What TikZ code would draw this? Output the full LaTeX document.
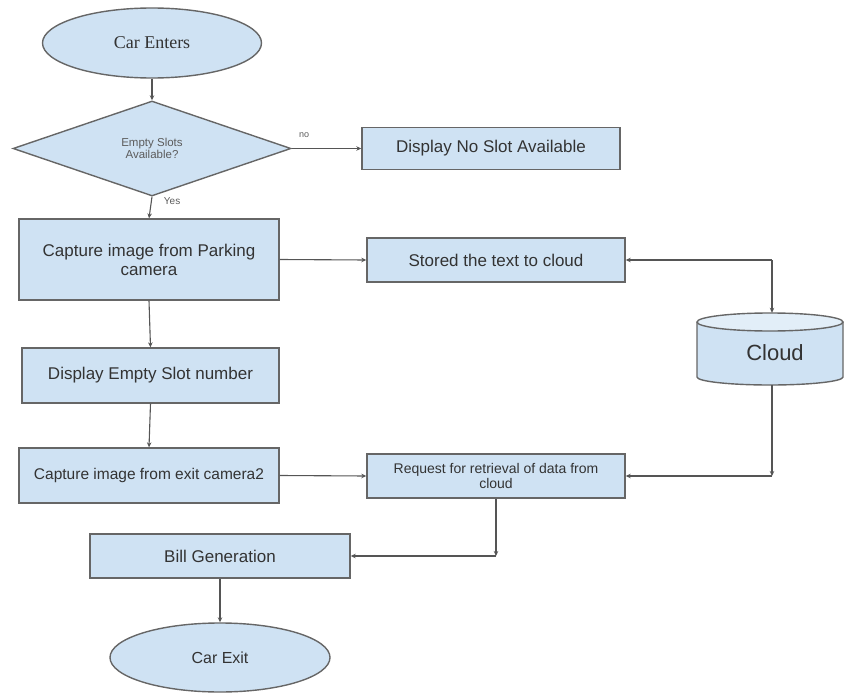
\documentclass[tikz,border=0pt]{standalone}
\usepackage{fontspec}
\setmainfont{Liberation Sans}
\newfontfamily\carserif{Liberation Serif}
\usetikzlibrary{shapes.geometric,arrows.meta}
\definecolor{boxfill}{HTML}{CFE2F3}
\definecolor{boxline}{HTML}{666666}
\definecolor{txt}{HTML}{333333}
\definecolor{conn}{HTML}{555555}
\tikzset{
  base/.style={draw=boxline, line width=1.4pt, fill=boxfill, text=txt, inner sep=2pt, align=center},
  procbox/.style={base, rectangle, font=\fontsize{17}{19}\selectfont},
  termnode/.style={base, ellipse},
  decnode/.style={base, diamond, inner sep=0pt, font=\fontsize{11.5}{12.5}\selectfont, text=txt!80},
  arr/.style={draw=conn, line width=1.1pt, -{Stealth[length=5pt,width=4.5pt]}},
  lbl/.style={text=txt!80, inner sep=0pt}
}
\begin{document}
\begin{tikzpicture}[x=1pt,y=-1pt]
\useasboundingbox (0,0) rectangle (844,693);
% nodes
\node[termnode, minimum width=219pt, minimum height=70pt, font=\carserif\fontsize{18}{20}\selectfont] (carin) at (152,43) {Car Enters};
\node[decnode, minimum width=278pt, minimum height=95pt] (dec) at (152,148.5) {Empty Slots\\Available?};
\node[procbox, minimum width=258pt, minimum height=42pt] (noslot) at (491,148.5) {Display No Slot Available};
\node[procbox, minimum width=260pt, minimum height=81pt] (park) at (149,259.5) {Capture image from Parking\\camera};
\node[procbox, minimum width=258pt, minimum height=44pt] (stored) at (496,260) {Stored the text to cloud};
% cloud cylinder (drawn directly) with an invisible anchor node
\fill[boxfill] (697,322) -- (697,377) arc[start angle=180, end angle=360, x radius=73pt, y radius=8pt] -- (843,322) arc[start angle=0, end angle=180, x radius=73pt, y radius=9pt] -- cycle;
\fill[boxfill!60!white] (770,322) ellipse[x radius=73pt, y radius=9pt];
\draw[boxline, line width=1.4pt] (697,322) -- (697,377) arc[start angle=180, end angle=360, x radius=73pt, y radius=8pt] -- (843,322);
\draw[boxline, line width=1.4pt] (770,322) ellipse[x radius=73pt, y radius=9pt];
\node[minimum width=146pt, minimum height=72pt, inner sep=0pt] (cloud) at (772,349) {};
\node[font=\fontsize{22}{24}\selectfont, text=txt] (cloudtext) at (775,353) {Cloud};
\node[procbox, minimum width=257pt, minimum height=55pt] (empty) at (150.5,375.5) {Display Empty Slot number};
\node[procbox, minimum width=260pt, minimum height=55pt, font=\fontsize{15.5}{17}\selectfont] (exit) at (149,475.5) {Capture image from exit camera2};
\node[procbox, minimum width=258pt, minimum height=44pt, font=\fontsize{14}{15}\selectfont] (req) at (496,476) {Request for retrieval of data from\\cloud};
\node[procbox, minimum width=260pt, minimum height=44pt] (bill) at (220,556) {Bill Generation};
\node[termnode, minimum width=220pt, minimum height=69pt, font=\fontsize{16}{18}\selectfont] (carout) at (220,657.5) {Car Exit};
% helper coordinates
\coordinate (c1) at (cloud.north |- stored.east);
\coordinate (c2) at (cloud.south |- req.east);
\coordinate (c3) at (req.south |- bill.east);
% connectors
\draw[arr] (carin.south) -- (dec.north);
\draw[arr] (dec.east) -- node[lbl, pos=0.18, above=10pt, font=\fontsize{9}{10}\selectfont] {no} (noslot.west);
\draw[arr] (dec.south) -- node[lbl, pos=0.2, right=12pt, font=\fontsize{10}{11}\selectfont] {Yes} (park.north);
\draw[arr] (park.east) -- (stored.west);
\draw[arr] (c1) -- (stored.east);
\draw[arr] (c1) -- (cloud.north);
\draw[arr] (park.south) -- (empty.north);
\draw[arr] (empty.south) -- (exit.north);
\draw[arr] (exit.east) -- (req.west);
\draw[arr] (cloud.south) -- (c2);
\draw[arr] (c2) -- (req.east);
\draw[arr] (req.south) -- (c3);
\draw[arr] (c3) -- (bill.east);
\draw[arr] (bill.south) -- (carout.north);
\end{tikzpicture}
\end{document}
